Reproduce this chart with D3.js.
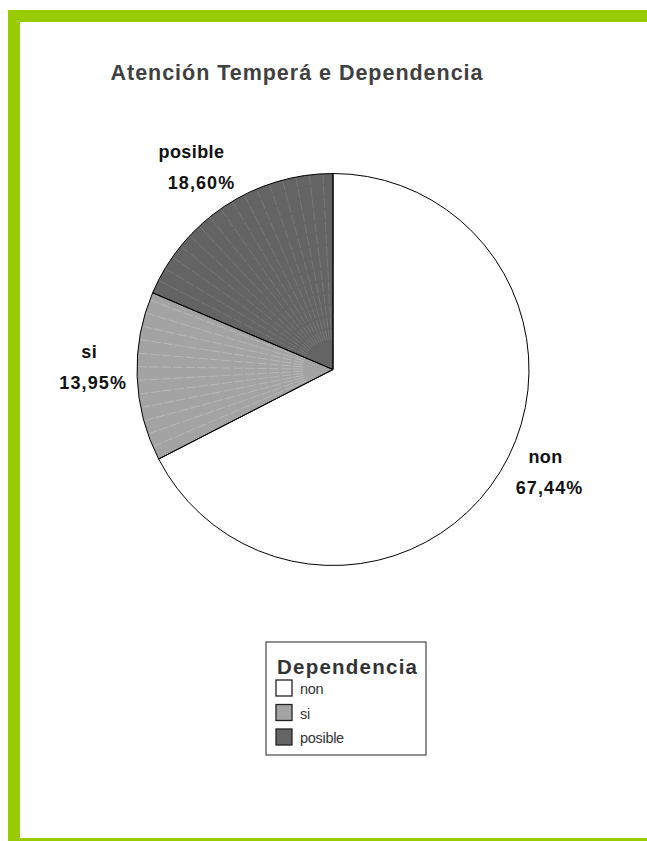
<!DOCTYPE html>
<html>
<head>
<meta charset="utf-8">
<script src="https://cdn.jsdelivr.net/npm/d3@7"></script>
<style>
  body { margin: 0; background: #fff; }
  svg { display: block; font-family: "Liberation Sans", Arial, sans-serif; }
</style>
</head>
<body>
<div id="chart"></div>
<script>
  // data
  var categories = ["non", "si", "posible"];
  var percents = [67.44, 13.95, 18.60];
  var percentLabels = ["67,44%", "13,95%", "18,60%"];
  var fills = ["#ffffff", "#a3a3a3", "#646464"];
  var bandLines = ["none", "#c4c4c4", "#858585"];

  var width = 647, height = 841;
  var cx = 333, cy = 369.5, radius = 196;

  var svg = d3.select("#chart").append("svg")
    .attr("width", width)
    .attr("height", height);

  // green frame
  var green = "#99cc00";
  svg.append("rect").attr("x", 8).attr("y", 10).attr("width", width - 8).attr("height", 12).attr("fill", green);
  svg.append("rect").attr("x", 8).attr("y", 10).attr("width", 12).attr("height", height - 10).attr("fill", green);
  svg.append("rect").attr("x", 8).attr("y", 838).attr("width", width - 8).attr("height", 3).attr("fill", green);

  // title
  svg.append("text")
    .attr("x", 296.5)
    .attr("y", 80)
    .attr("text-anchor", "middle")
    .attr("font-size", 21.5)
    .attr("font-weight", "bold")
    .attr("fill", "#404040")
    .attr("textLength", 372)
    .attr("lengthAdjust", "spacing")
    .text("Atención Temperá e Dependencia");

  var data = categories.map(function(c, i) {
    return { name: c, value: percents[i], label: percentLabels[i], fill: fills[i], line: bandLines[i] };
  });

  var pie = d3.pie()
    .sort(null)
    .value(function(d) { return d.value; });

  var arc = d3.arc()
    .innerRadius(0)
    .outerRadius(radius);

  var g = svg.append("g")
    .attr("transform", "translate(" + cx + "," + cy + ")");

  var arcs = pie(data);

  g.selectAll("path.slice")
    .data(arcs)
    .enter().append("path")
    .attr("class", "slice")
    .attr("d", arc)
    .attr("fill", function(d) { return d.data.fill; });

  // faint radial banding inside the shaded slices
  arcs.forEach(function(a) {
    if (a.data.line === "none") return;
    var step = 4 * Math.PI / 180;
    var angles = d3.range(a.startAngle + step, a.endAngle - step / 3, step);
    g.selectAll(null)
      .data(angles)
      .enter().append("line")
      .attr("x1", function(t) { return 30 * Math.sin(t); })
      .attr("y1", function(t) { return -30 * Math.cos(t); })
      .attr("x2", function(t) { return (radius - 1) * Math.sin(t); })
      .attr("y2", function(t) { return -(radius - 1) * Math.cos(t); })
      .attr("stroke", a.data.line)
      .attr("stroke-width", 0.6)
      .attr("stroke-dasharray", "10,2");
  });

  g.selectAll("path.edge")
    .data(arcs)
    .enter().append("path")
    .attr("class", "edge")
    .attr("d", arc)
    .attr("fill", "none")
    .attr("stroke", "#000")
    .attr("stroke-width", 1);

  // labels outside the pie
  var labelArc = d3.arc().innerRadius(242).outerRadius(242);
  var nudge = { non: [6, -23], si: [-2, -10], posible: [-8, 0] };

  var lab = g.selectAll("g.lab")
    .data(arcs)
    .enter().append("g")
    .attr("class", "lab")
    .attr("transform", function(d) {
      var c = labelArc.centroid(d), n = nudge[d.data.name];
      return "translate(" + (c[0] + n[0]) + "," + (c[1] + n[1]) + ")";
    });

  lab.append("text")
    .attr("text-anchor", "middle")
    .attr("y", -10)
    .attr("font-size", 18)
    .attr("font-weight", "bold")
    .attr("fill", "#111")
    .attr("letter-spacing", 0.4)
    .text(function(d) { return d.data.name; });

  lab.append("text")
    .attr("text-anchor", "middle")
    .attr("x", function(d) { return d.data.name === "posible" ? 10 : 4; })
    .attr("y", 21)
    .attr("font-size", 18)
    .attr("font-weight", "bold")
    .attr("fill", "#111")
    .attr("letter-spacing", 1.1)
    .text(function(d) { return d.data.label; });

  // legend
  var legend = svg.append("g").attr("transform", "translate(266,642)");
  legend.append("rect")
    .attr("width", 160).attr("height", 113)
    .attr("fill", "#fff").attr("stroke", "#222").attr("stroke-width", 1);

  legend.append("text")
    .attr("x", 11).attr("y", 32)
    .attr("font-size", 20.5)
    .attr("font-weight", "bold")
    .attr("fill", "#333")
    .attr("textLength", 140)
    .attr("lengthAdjust", "spacing")
    .text("Dependencia");

  var item = legend.selectAll("g.item")
    .data(data)
    .enter().append("g")
    .attr("class", "item")
    .attr("transform", function(d, i) { return "translate(10," + (38 + i * 24.5) + ")"; });

  item.append("rect")
    .attr("width", 16).attr("height", 16)
    .attr("fill", function(d) { return d.fill; })
    .attr("stroke", "#222").attr("stroke-width", 1.3);

  item.append("text")
    .attr("x", 24).attr("y", 14)
    .attr("font-size", 14.5)
    .attr("fill", "#333")
    .attr("letter-spacing", -0.3)
    .text(function(d) { return d.name; });
</script>
</body>
</html>
